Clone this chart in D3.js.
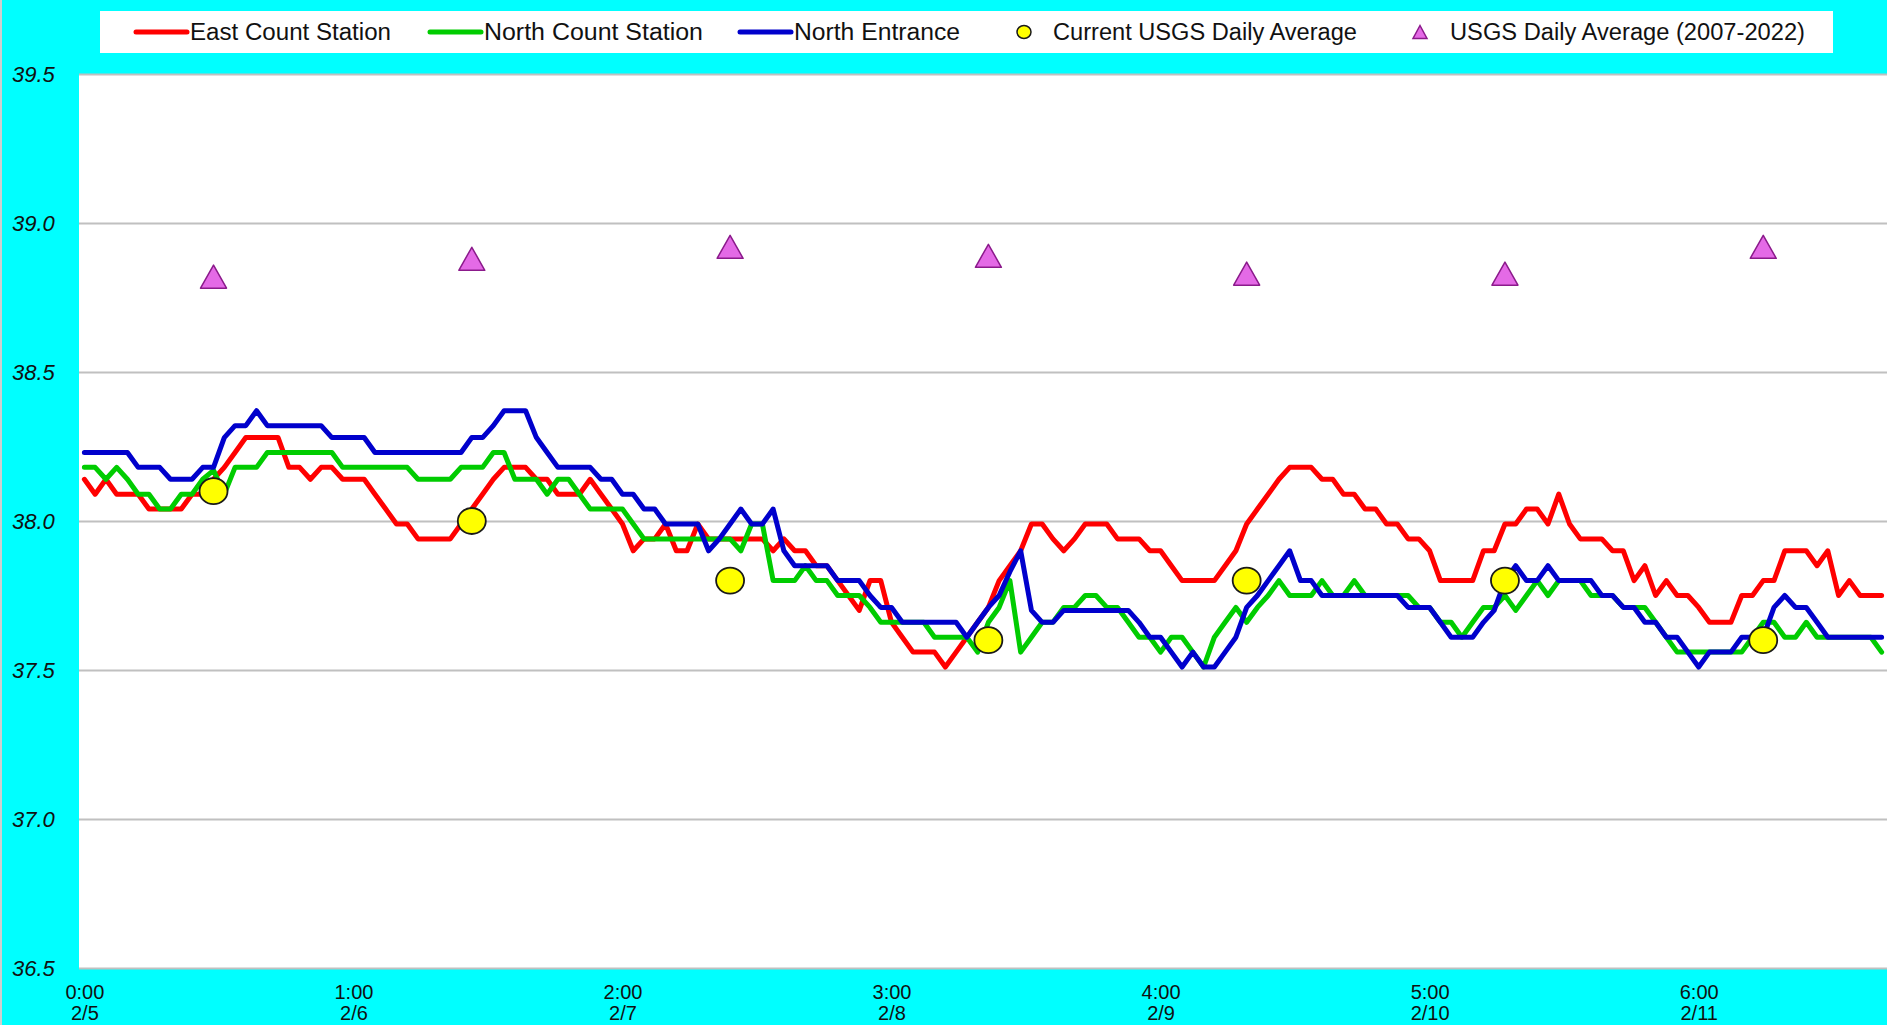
<!DOCTYPE html>
<html>
<head>
<meta charset="utf-8">
<title>Water Temperature</title>
<script src="https://cdn.jsdelivr.net/npm/d3@7"></script>
<style>
body { margin: 0; background: #00ffff; overflow: hidden; }
text { font-family: "Liberation Sans", Arial, sans-serif; fill: #111; }
</style>
</head>
<body>
<div id="idChart"></div>
<script>

// x axis: one point per hour, 2/5 0:00 .. 2/11 23:00, label every 25 points
var gaTickIdx = [0, 25, 50, 75, 100, 125, 150];
var gaTickTime = ["0:00", "1:00", "2:00", "3:00", "4:00", "5:00", "6:00"];
var gaTickDate = ["2/5", "2/6", "2/7", "2/8", "2/9", "2/10", "2/11"];

var gaYTicks = [36.5, 37.0, 37.5, 38.0, 38.5, 39.0, 39.5];

var gaEast = [
    38.14, 38.09, 38.14, 38.09, 38.09, 38.09, 38.04, 38.04, 38.04, 38.04, 38.09, 38.09,
    38.14, 38.18, 38.23, 38.28, 38.28, 38.28, 38.28, 38.18, 38.18, 38.14, 38.18, 38.18,
    38.14, 38.14, 38.14, 38.09, 38.04, 37.99, 37.99, 37.94, 37.94, 37.94, 37.94, 37.99,
    38.04, 38.09, 38.14, 38.18, 38.18, 38.18, 38.14, 38.14, 38.09, 38.09, 38.09, 38.14,
    38.09, 38.04, 37.99, 37.90, 37.94, 37.94, 37.99, 37.90, 37.90, 37.99, 37.94, 37.94,
    37.94, 37.94, 37.94, 37.94, 37.90, 37.94, 37.90, 37.90, 37.85, 37.85, 37.80, 37.75,
    37.70, 37.80, 37.80, 37.66, 37.61, 37.56, 37.56, 37.56, 37.51, 37.56, 37.61, 37.66,
    37.71, 37.80, 37.85, 37.90, 37.99, 37.99, 37.94, 37.90, 37.94, 37.99, 37.99, 37.99,
    37.94, 37.94, 37.94, 37.90, 37.90, 37.85, 37.80, 37.80, 37.80, 37.80, 37.85, 37.90,
    37.99, 38.04, 38.09, 38.14, 38.18, 38.18, 38.18, 38.14, 38.14, 38.09, 38.09, 38.04,
    38.04, 37.99, 37.99, 37.94, 37.94, 37.90, 37.80, 37.80, 37.80, 37.80, 37.90, 37.90,
    37.99, 37.99, 38.04, 38.04, 37.99, 38.09, 37.99, 37.94, 37.94, 37.94, 37.90, 37.90,
    37.80, 37.85, 37.75, 37.80, 37.75, 37.75, 37.71, 37.66, 37.66, 37.66, 37.75, 37.75,
    37.80, 37.80, 37.90, 37.90, 37.90, 37.85, 37.90, 37.75, 37.80, 37.75, 37.75, 37.75
];

var gaNorth = [
    38.18, 38.18, 38.14, 38.18, 38.14, 38.09, 38.09, 38.04, 38.04, 38.09, 38.09, 38.14,
    38.17, 38.09, 38.18, 38.18, 38.18, 38.23, 38.23, 38.23, 38.23, 38.23, 38.23, 38.23,
    38.18, 38.18, 38.18, 38.18, 38.18, 38.18, 38.18, 38.14, 38.14, 38.14, 38.14, 38.18,
    38.18, 38.18, 38.23, 38.23, 38.14, 38.14, 38.14, 38.09, 38.14, 38.14, 38.09, 38.04,
    38.04, 38.04, 38.04, 37.99, 37.94, 37.94, 37.94, 37.94, 37.94, 37.94, 37.94, 37.94,
    37.94, 37.90, 37.99, 37.99, 37.80, 37.80, 37.80, 37.85, 37.80, 37.80, 37.75, 37.75,
    37.75, 37.71, 37.66, 37.66, 37.66, 37.66, 37.66, 37.61, 37.61, 37.61, 37.61, 37.56,
    37.66, 37.71, 37.80, 37.56, 37.61, 37.66, 37.66, 37.71, 37.71, 37.75, 37.75, 37.71,
    37.71, 37.66, 37.61, 37.61, 37.56, 37.61, 37.61, 37.56, 37.51, 37.61, 37.66, 37.71,
    37.66, 37.71, 37.75, 37.80, 37.75, 37.75, 37.75, 37.80, 37.75, 37.75, 37.80, 37.75,
    37.75, 37.75, 37.75, 37.75, 37.71, 37.71, 37.66, 37.66, 37.61, 37.66, 37.71, 37.71,
    37.75, 37.70, 37.75, 37.80, 37.75, 37.80, 37.80, 37.80, 37.75, 37.75, 37.75, 37.71,
    37.71, 37.71, 37.66, 37.61, 37.56, 37.56, 37.56, 37.56, 37.56, 37.56, 37.56, 37.61,
    37.66, 37.66, 37.61, 37.61, 37.66, 37.61, 37.61, 37.61, 37.61, 37.61, 37.61, 37.56
];

var gaEntrance = [
    38.23, 38.23, 38.23, 38.23, 38.23, 38.18, 38.18, 38.18, 38.14, 38.14, 38.14, 38.18,
    38.18, 38.28, 38.32, 38.32, 38.37, 38.32, 38.32, 38.32, 38.32, 38.32, 38.32, 38.28,
    38.28, 38.28, 38.28, 38.23, 38.23, 38.23, 38.23, 38.23, 38.23, 38.23, 38.23, 38.23,
    38.28, 38.28, 38.32, 38.37, 38.37, 38.37, 38.28, 38.23, 38.18, 38.18, 38.18, 38.18,
    38.14, 38.14, 38.09, 38.09, 38.04, 38.04, 37.99, 37.99, 37.99, 37.99, 37.90, 37.94,
    37.99, 38.04, 37.99, 37.99, 38.04, 37.90, 37.85, 37.85, 37.85, 37.85, 37.80, 37.80,
    37.80, 37.75, 37.71, 37.71, 37.66, 37.66, 37.66, 37.66, 37.66, 37.66, 37.61, 37.66,
    37.71, 37.75, 37.83, 37.90, 37.70, 37.66, 37.66, 37.70, 37.70, 37.70, 37.70, 37.70,
    37.70, 37.70, 37.66, 37.61, 37.61, 37.56, 37.51, 37.56, 37.51, 37.51, 37.56, 37.61,
    37.71, 37.75, 37.80, 37.85, 37.90, 37.80, 37.80, 37.75, 37.75, 37.75, 37.75, 37.75,
    37.75, 37.75, 37.75, 37.71, 37.71, 37.71, 37.66, 37.61, 37.61, 37.61, 37.66, 37.70,
    37.80, 37.85, 37.80, 37.80, 37.85, 37.80, 37.80, 37.80, 37.80, 37.75, 37.75, 37.71,
    37.71, 37.66, 37.66, 37.61, 37.61, 37.56, 37.51, 37.56, 37.56, 37.56, 37.61, 37.61,
    37.61, 37.71, 37.75, 37.71, 37.71, 37.66, 37.61, 37.61, 37.61, 37.61, 37.61, 37.61
];

// daily markers, placed at the hour index they sit on
var gaDayIdx = [12, 36, 60, 84, 108, 132, 156];
var gaCurrentAvg = [38.10, 38.00, 37.80, 37.60, 37.80, 37.80, 37.60];
var gaHistAvg = [38.82, 38.88, 38.92, 38.89, 38.83, 38.83, 38.92];

var COLOR_EAST = "#ff0000";
var COLOR_NORTH = "#00cc00";
var COLOR_ENTRANCE = "#0000cc";

function trianglePath(w, h)
{
    return "M0," + (-h / 2) + "L" + (w / 2) + "," + (h / 2) + "L" + (-w / 2) + "," + (h / 2) + "Z";
}

function drawChart()
{
    var iWidth = 1887;
    var iHeight = 1025;

    var margin = {top: 74, right: 0, bottom: 57, left: 79};

    var svg = d3.select("#idChart").append("svg")
        .attr("width", iWidth)
        .attr("height", iHeight);

    svg.append("rect")
        .attr("width", iWidth).attr("height", iHeight)
        .attr("fill", "#00ffff");

    svg.append("line")
        .attr("x1", 1).attr("x2", 1).attr("y1", 0).attr("y2", iHeight)
        .attr("stroke", "#cfcfcf").attr("stroke-width", 2);

    var x = d3.scaleLinear()
        .domain([-0.5, gaEast.length - 0.5])
        .range([margin.left, iWidth - margin.right]);

    var y = d3.scaleLinear()
        .domain([36.5, 39.5])
        .range([iHeight - margin.bottom, margin.top]);

    // plot area
    svg.append("rect")
        .attr("x", margin.left)
        .attr("y", margin.top)
        .attr("width", iWidth - margin.left - margin.right)
        .attr("height", iHeight - margin.top - margin.bottom)
        .attr("fill", "#ffffff");

    // y axis with gridlines
    var yAxis = d3.axisLeft(y)
        .tickValues(gaYTicks)
        .tickFormat(d3.format(".1f"))
        .tickSize(-(iWidth - margin.left - margin.right));

    var gY = svg.append("g")
        .attr("transform", "translate(" + margin.left + ",0)")
        .call(yAxis);
    gY.select(".domain").remove();
    gY.selectAll(".tick line")
        .attr("stroke", "#c0c0c0")
        .attr("stroke-width", 2);
    gY.selectAll(".tick text")
        .attr("x", -67)
        .attr("dy", "0.35em")
        .attr("text-anchor", "start")
        .style("font-size", "22px")
        .style("font-style", "italic")
        .style("font-family", "\"Liberation Sans\", Arial, sans-serif")
        .attr("fill", "#111");

    // x axis: time on first row, date below
    var xAxis = d3.axisBottom(x)
        .tickValues(gaTickIdx)
        .tickSize(0)
        .tickFormat(function(d, i) { return ""; });

    var gX = svg.append("g")
        .attr("transform", "translate(0," + (iHeight - margin.bottom) + ")")
        .call(xAxis);
    gX.select(".domain").remove();
    gX.selectAll(".tick text").remove();
    gX.selectAll(".tick").each(function(d, i) {
        var t = d3.select(this).append("text")
            .attr("text-anchor", "middle")
            .style("font-size", "20px")
            .style("font-family", "\"Liberation Sans\", Arial, sans-serif")
            .attr("fill", "#111");
        t.append("tspan").attr("x", 0).attr("y", 31).text(gaTickTime[i]);
        t.append("tspan").attr("x", 0).attr("y", 52).text(gaTickDate[i]);
    });

    // series lines
    var valueLine = d3.line()
        .x(function(d, i) { return x(i); })
        .y(function(d) { return y(d); });

    var aSeries = [
        {data: gaEast, color: COLOR_EAST},
        {data: gaNorth, color: COLOR_NORTH},
        {data: gaEntrance, color: COLOR_ENTRANCE}
    ];

    svg.append("g").attr("class", "lines")
        .selectAll("path")
        .data(aSeries)
        .enter().append("path")
        .attr("fill", "none")
        .attr("stroke", function(d) { return d.color; })
        .attr("stroke-width", 5)
        .attr("stroke-linejoin", "round")
        .attr("stroke-linecap", "round")
        .attr("d", function(d) { return valueLine(d.data); });

    // historical daily average (triangles)
    svg.append("g").attr("class", "hist")
        .selectAll("path")
        .data(gaHistAvg)
        .enter().append("path")
        .attr("d", trianglePath(26, 23))
        .attr("transform", function(d, i) { return "translate(" + x(gaDayIdx[i]) + "," + y(d) + ")"; })
        .attr("fill", "#e46ae6")
        .attr("stroke", "#8b1a8b")
        .attr("stroke-width", 1.5)
        .attr("stroke-linejoin", "round");

    // current daily average (circles)
    svg.append("g").attr("class", "current")
        .selectAll("ellipse")
        .data(gaCurrentAvg)
        .enter().append("ellipse")
        .attr("cx", function(d, i) { return x(gaDayIdx[i]); })
        .attr("cy", function(d) { return y(d); })
        .attr("rx", 14)
        .attr("ry", 13)
        .attr("fill", "#ffff00")
        .attr("stroke", "#1a1a1a")
        .attr("stroke-width", 1.8);

    drawLegend(svg);
}

function drawLegend(svg)
{
    var gLeg = svg.append("g").attr("class", "legend");

    gLeg.append("rect")
        .attr("x", 100).attr("y", 11)
        .attr("width", 1733).attr("height", 42)
        .attr("fill", "#ffffff");

    var iMid = 32;

    var aItems = [
        {type: "line", color: COLOR_EAST, x: 136, tx: 190, tw: 201, label: "East Count Station"},
        {type: "line", color: COLOR_NORTH, x: 430, tx: 484, tw: 219, label: "North Count Station"},
        {type: "line", color: COLOR_ENTRANCE, x: 740, tx: 794, tw: 166, label: "North Entrance"},
        {type: "circle", x: 1024, tx: 1053, tw: 304, label: "Current USGS Daily Average"},
        {type: "tri", x: 1420, tx: 1450, tw: 355, label: "USGS Daily Average (2007-2022)"}
    ];

    aItems.forEach(function(d) {
        if (d.type == "line")
        {
            gLeg.append("line")
                .attr("x1", d.x).attr("x2", d.x + 51)
                .attr("y1", iMid).attr("y2", iMid)
                .attr("stroke", d.color)
                .attr("stroke-width", 5)
                .attr("stroke-linecap", "round");
        }
        else if (d.type == "circle")
        {
            gLeg.append("ellipse")
                .attr("cx", d.x).attr("cy", iMid)
                .attr("rx", 7).attr("ry", 6.5)
                .attr("fill", "#ffff00")
                .attr("stroke", "#1a1a1a")
                .attr("stroke-width", 1.5);
        }
        else
        {
            gLeg.append("path")
                .attr("d", trianglePath(14, 13))
                .attr("transform", "translate(" + d.x + "," + iMid + ")")
                .attr("fill", "#e46ae6")
                .attr("stroke", "#8b1a8b")
                .attr("stroke-width", 1.5);
        }

        gLeg.append("text")
            .attr("x", d.tx)
            .attr("y", iMid)
            .attr("dy", "0.36em")
            .attr("textLength", d.tw)
            .attr("lengthAdjust", "spacingAndGlyphs")
            .style("font-size", "23px")
            .attr("fill", "#111")
            .text(d.label);
    });
}

drawChart();

</script>
</body>
</html>
